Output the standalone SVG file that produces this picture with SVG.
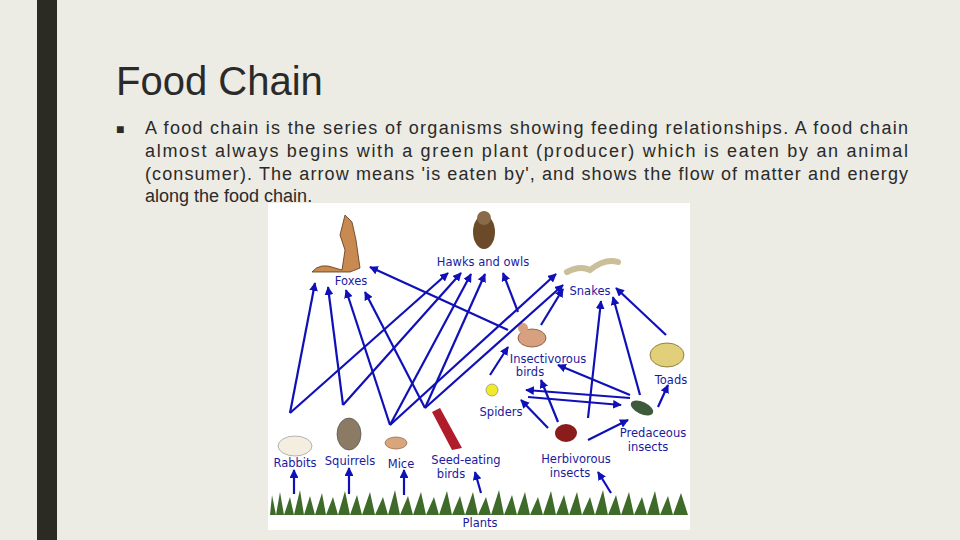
<svg xmlns="http://www.w3.org/2000/svg" width="960" height="540" viewBox="0 0 960 540">
<defs>
<marker id="ah" viewBox="0 0 10 10" refX="9" refY="5" markerWidth="4" markerHeight="4" orient="auto"><path d="M0,0L10,5L0,10z" fill="#1010b8"/></marker>
<style>
.t{font-family:"Liberation Sans",Arial,sans-serif;fill:#2a2a2a}
.l{font-family:"DejaVu Sans",sans-serif;font-size:11.5px;fill:#1a1aa0;text-anchor:middle}
.c line{stroke:#1010b8;stroke-width:2.2;marker-end:url(#ah)}
</style>
</defs>
<rect width="960" height="540" fill="#ecebe4"/>
<rect x="37" y="0" width="20" height="540" fill="#2b2b22"/>
<text class="t" x="116" y="95" font-size="40">Food Chain</text>
<text class="t" x="116" y="134" font-size="14">■</text>
<g class="t" font-size="18">
<text x="145" y="134" textLength="763" lengthAdjust="spacing">A food chain is the series of organisms showing feeding relationships. A food chain</text>
<text x="145" y="157" textLength="763" lengthAdjust="spacing">almost always begins with a green plant (producer) which is eaten by an animal</text>
<text x="145" y="180" textLength="763" lengthAdjust="spacing">(consumer). The arrow means 'is eaten by', and shows the flow of matter and energy</text>
<text x="145" y="202">along the food chain.</text>
</g>
<rect x="268" y="203" width="422" height="327" fill="#ffffff"/>
<g id="plants">
<path d="M270,515 L272,495 L276,515 L280,492 L284,515 L290,497 L294,515 L300,490 L304,515 L310,496 L315,515 L322,493 L326,515 L333,497 L338,515 L345,491 L350,515 L357,495 L362,515 L370,492 L375,515 L383,497 L388,515 L395,490 L400,515 L408,496 L413,515 L421,492 L426,515 L434,497 L439,515 L447,491 L452,515 L460,496 L465,515 L473,492 L478,515 L486,497 L491,515 L499,490 L504,515 L512,495 L517,515 L525,492 L530,515 L538,497 L543,515 L551,491 L556,515 L564,495 L569,515 L577,492 L582,515 L590,497 L595,515 L603,490 L608,515 L616,495 L621,515 L629,492 L634,515 L642,497 L647,515 L655,491 L660,515 L668,496 L673,515 L681,493 L688,515Z" fill="#3e6b2a"/>
<text class="l" x="480" y="527" font-size="13">Plants</text>
</g>
<g id="foxes"><path d="M312,272 Q320,262 335,268 L342,270 L345,250 L340,235 L345,215 L352,222 L356,240 L360,268 L350,272Z" fill="#c98a52" stroke="#5a3518" stroke-width="0.8"/><text class="l" x="351" y="285">Foxes</text></g>
<g id="hawks"><ellipse cx="484" cy="232" rx="11" ry="17" fill="#6b4a2a"/><circle cx="484" cy="218" r="7" fill="#8a6a48"/><text class="l" x="483" y="266">Hawks and owls</text></g>
<g id="snakes"><path d="M567,272 Q580,265 590,270 Q605,258 618,262" fill="none" stroke="#cbbf99" stroke-width="6" stroke-linecap="round"/><text class="l" x="590" y="295">Snakes</text></g>
<g id="insectivorous"><ellipse cx="532" cy="338" rx="14" ry="9" fill="#d7a07f" stroke="#7a4a30" stroke-width="0.8"/><circle cx="523" cy="328" r="5" fill="#d7a07f"/><text class="l" x="548" y="363">Insectivorous</text><text class="l" x="530" y="376">birds</text></g>
<g id="toads"><ellipse cx="667" cy="355" rx="17" ry="12" fill="#e1cf7a" stroke="#7a6a30" stroke-width="0.8"/><text class="l" x="671" y="384">Toads</text></g>
<g id="spiders"><circle cx="492" cy="390" r="6" fill="#f1ea2a" stroke="#777" stroke-width="0.6"/><text class="l" x="501" y="416">Spiders</text></g>
<g id="predaceous"><ellipse cx="642" cy="408" rx="12" ry="6" fill="#3d5a3a" transform="rotate(25 642 408)"/><text class="l" x="653" y="437">Predaceous</text><text class="l" x="648" y="451">insects</text></g>
<g id="herbivorous"><ellipse cx="566" cy="433" rx="11" ry="9" fill="#8a1c1c"/><text class="l" x="576" y="463">Herbivorous</text><text class="l" x="570" y="477">insects</text></g>
<g id="rabbits"><ellipse cx="295" cy="446" rx="17" ry="10" fill="#f3eee0" stroke="#888" stroke-width="0.6"/><text class="l" x="295" y="467">Rabbits</text></g>
<g id="squirrels"><ellipse cx="349" cy="434" rx="12" ry="16" fill="#8b7a64" stroke="#444" stroke-width="0.6"/><text class="l" x="350" y="465">Squirrels</text></g>
<g id="mice"><ellipse cx="396" cy="443" rx="11" ry="6" fill="#d9a57a" stroke="#7a4a30" stroke-width="0.6"/><text class="l" x="401" y="468">Mice</text></g>
<g id="seedbirds"><path d="M432,412 L440,408 L462,448 L452,450Z" fill="#b01c2a"/><text class="l" x="466" y="464">Seed-eating</text><text class="l" x="451" y="478">birds</text></g>
<g id="connectors" class="c">
<line x1="290" y1="413" x2="315" y2="283"/>
<line x1="290" y1="413" x2="448" y2="273"/>
<line x1="343" y1="405" x2="328" y2="287"/>
<line x1="343" y1="405" x2="461" y2="273"/>
<line x1="390" y1="425" x2="346" y2="290"/>
<line x1="390" y1="425" x2="471" y2="274"/>
<line x1="390" y1="425" x2="556" y2="274"/>
<line x1="425" y1="408" x2="365" y2="292"/>
<line x1="425" y1="408" x2="485" y2="274"/>
<line x1="425" y1="408" x2="563" y2="285"/>
<line x1="508" y1="330" x2="370" y2="267"/>
<line x1="518" y1="312" x2="503" y2="273"/>
<line x1="541" y1="325" x2="563" y2="289"/>
<line x1="490" y1="375" x2="508" y2="347"/>
<line x1="528" y1="397" x2="621" y2="405"/>
<line x1="630" y1="398" x2="526" y2="390"/>
<line x1="558" y1="422" x2="541" y2="380"/>
<line x1="548" y1="428" x2="521" y2="400"/>
<line x1="588" y1="418" x2="601" y2="301"/>
<line x1="588" y1="440" x2="628" y2="420"/>
<line x1="630" y1="395" x2="558" y2="365"/>
<line x1="640" y1="395" x2="613" y2="297"/>
<line x1="658" y1="407" x2="668" y2="385"/>
<line x1="666" y1="335" x2="616" y2="288"/>
<line x1="294" y1="494" x2="294" y2="470"/>
<line x1="349" y1="494" x2="349" y2="468"/>
<line x1="404" y1="495" x2="404" y2="470"/>
<line x1="481" y1="493" x2="475" y2="472"/>
<line x1="611" y1="493" x2="598" y2="472"/>
</g>
</svg>
